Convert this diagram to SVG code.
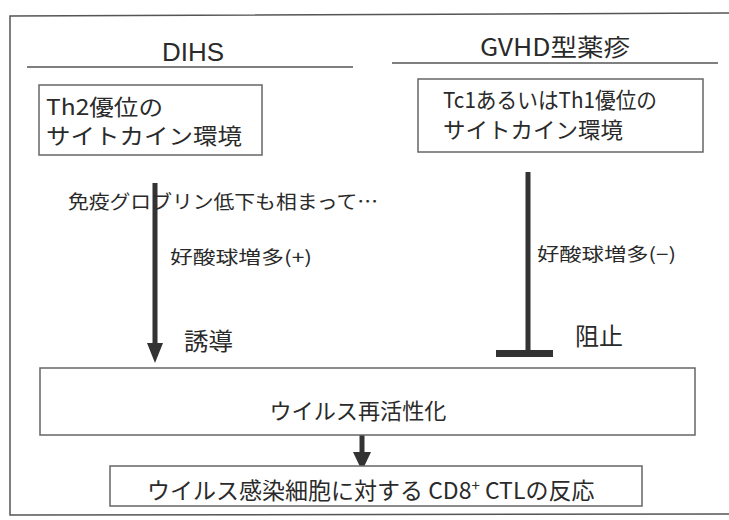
<svg xmlns="http://www.w3.org/2000/svg" width="729" height="520" viewBox="0 0 729 520">
<style>
.t{font-family:"Noto Sans CJK JP","Liberation Sans",sans-serif;fill:#2a2a2a}
.h{font-family:"Liberation Sans","Noto Sans CJK JP",sans-serif;fill:#2a2a2a}
.box{fill:#fff;stroke:#666;stroke-width:1.5}
.rule{stroke:#555;stroke-width:1.5;fill:none}
.conn{stroke:#333;stroke-width:5;fill:none}
.head{fill:#333}
</style>
<rect x="0" y="0" width="729" height="520" fill="#fff"/>
<path class="rule" d="M729,13 L10,16 L10,515 L729,514"/>

<g id="header-dihs">
<text class="h" x="193" y="61" font-size="26" text-anchor="middle" textLength="62" lengthAdjust="spacingAndGlyphs">DIHS</text>
<line class="rule" x1="27" y1="67" x2="353" y2="67"/>
</g>
<g id="header-gvhd">
<text class="t" x="555" y="56" font-size="24" text-anchor="middle" textLength="150" lengthAdjust="spacingAndGlyphs">GVHD型薬疹</text>
<line class="rule" x1="392" y1="63" x2="718" y2="63"/>
</g>

<g id="node-th2">
<rect class="box" x="39" y="85" width="223" height="70"/>
<text class="t" x="46" y="115" font-size="22" textLength="117" lengthAdjust="spacingAndGlyphs">Th2優位の</text>
<text class="t" x="46" y="144" font-size="22" textLength="196" lengthAdjust="spacingAndGlyphs">サイトカイン環境</text>
</g>
<g id="node-tc1">
<rect class="box" x="418" y="79" width="285" height="73"/>
<text class="t" x="443" y="108" font-size="22" textLength="214" lengthAdjust="spacingAndGlyphs">Tc1あるいはTh1優位の</text>
<text class="t" x="443" y="138" font-size="22" textLength="180" lengthAdjust="spacingAndGlyphs">サイトカイン環境</text>
</g>

<g id="connectors">
<line class="conn" x1="155" y1="183" x2="155" y2="346"/>
<polygon class="head" points="147,343 163,343 155,363"/>
<line class="conn" x1="528" y1="172" x2="528" y2="352" stroke-width="6"/>
<line x1="496" y1="353.5" x2="553" y2="353.5" stroke="#333" stroke-width="7"/>
<line class="conn" x1="362" y1="435" x2="362" y2="455"/>
<polygon class="head" points="353,452 371,452 362,471"/>
</g>

<g id="labels">
<text class="t" x="68" y="209" font-size="19" textLength="310" lengthAdjust="spacingAndGlyphs">免疫グロブリン低下も相まって…</text>
<text class="t" x="170" y="264" font-size="18" textLength="142" lengthAdjust="spacingAndGlyphs">好酸球増多(+)</text>
<text class="t" x="184" y="350" font-size="24" textLength="49" lengthAdjust="spacingAndGlyphs">誘導</text>
<text class="t" x="537" y="261" font-size="18" textLength="139" lengthAdjust="spacingAndGlyphs">好酸球増多(−)</text>
<text class="t" x="575" y="345" font-size="24" textLength="48" lengthAdjust="spacingAndGlyphs">阻止</text>
</g>

<g id="node-reactivation">
<rect class="box" x="40" y="368" width="655" height="67"/>
<text class="t" x="358" y="419" font-size="22" text-anchor="middle" textLength="177" lengthAdjust="spacingAndGlyphs">ウイルス再活性化</text>
</g>
<g id="node-ctl">
<rect class="box" x="110" y="466" width="532" height="40"/>
<text class="t" x="147" y="499" font-size="23">ウイルス感染細胞に対する CD8<tspan dy="-8" font-size="15">+</tspan><tspan dy="8"> CTLの反応</tspan></text>
</g>
</svg>
